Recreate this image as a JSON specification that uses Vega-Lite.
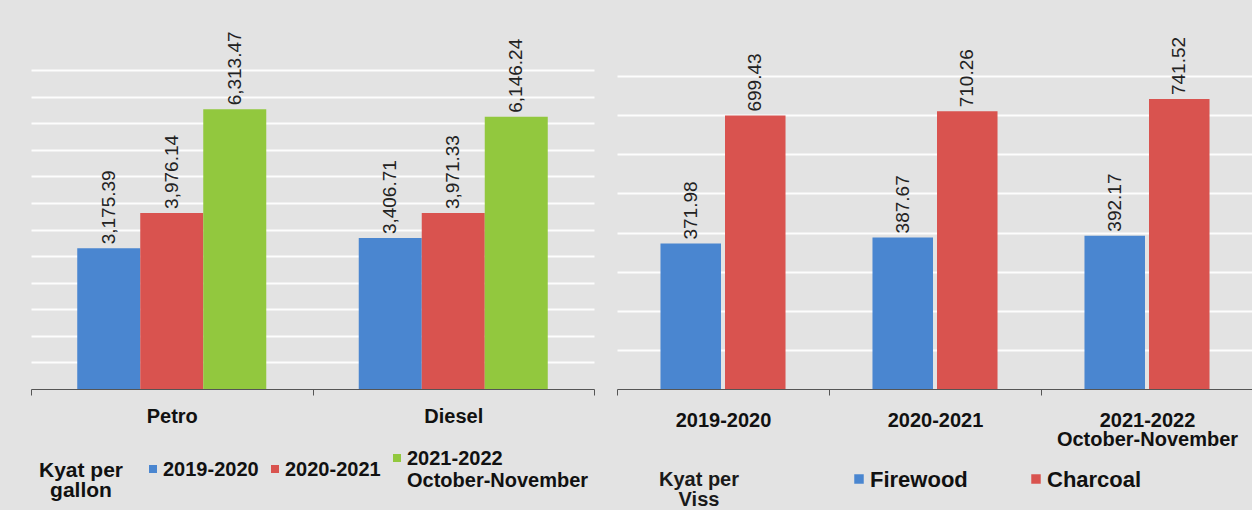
{
  "$schema": "https://vega.github.io/schema/vega-lite/v6.json",
  "background": "#e3e3e3",
  "padding": {"left": 30, "top": 31, "right": 0, "bottom": 0},
  "spacing": 23,
  "bounds": "flush",
  "resolve": {"scale": {"color": "independent", "xOffset": "independent"}, "legend": {"color": "independent"}},
  "config": {
    "view": {"stroke": null},
    "font": "Liberation Sans",
    "style": {"guide-label": {"dy": -9}}
  },
  "hconcat": [
    {
      "width": 563,
      "height": 357,
      "data": {"values": [
        {"fuel": "Petro", "period": "2019-2020", "price": 3175.39},
        {"fuel": "Petro", "period": "2020-2021", "price": 3976.14},
        {"fuel": "Petro", "period": "2021-2022 October-November", "price": 6313.47},
        {"fuel": "Diesel", "period": "2019-2020", "price": 3406.71},
        {"fuel": "Diesel", "period": "2020-2021", "price": 3971.33},
        {"fuel": "Diesel", "period": "2021-2022 October-November", "price": 6146.24}
      ]},
      "encoding": {
        "x": {
          "field": "fuel", "type": "nominal", "sort": ["Petro", "Diesel"],
          "scale": {"paddingInner": 0, "paddingOuter": 0},
          "axis": {"title": null, "labelAngle": 0, "labelFontSize": 20, "labelFontWeight": "bold", "labelColor": "#111", "labelPadding": 20, "tickBand": "extent", "tickSize": 6, "tickColor": "#555", "domainColor": "#555", "grid": false}
        },
        "xOffset": {"field": "period", "type": "nominal", "sort": ["2019-2020", "2020-2021", "2021-2022 October-November"], "scale": {"paddingInner": 0, "paddingOuter": 0.734}},
        "y": {
          "field": "price", "type": "quantitative",
          "scale": {"domain": [0, 8060], "nice": false},
          "axis": {"title": null, "labels": false, "ticks": false, "domain": false, "values": [600, 1200, 1800, 2400, 3000, 3600, 4200, 4800, 5400, 6000, 6600, 7200], "gridColor": "#ffffff", "gridWidth": 2, "gridOpacity": 0.9}
        }
      },
      "layer": [
        {
          "mark": {"type": "bar"},
          "encoding": {
            "color": {
              "field": "period", "type": "nominal",
              "sort": ["2019-2020", "2020-2021", "2021-2022 October-November"],
              "scale": {"range": ["#4a86d0", "#d9534f", "#92c83e"]},
              "legend": {"orient": "none", "legendX": 8, "legendY": 416, "direction": "horizontal", "title": ["Kyat per", "gallon"], "titleOrient": "left", "titleAlign": "center", "titleBaseline": "top", "titleFontSize": 21, "titleFontWeight": "bold", "titleColor": "#111", "titlePadding": -23, "titleLineHeight": 20, "labelFontSize": 20, "labelFontWeight": "bold", "labelColor": "#111", "labelBaseline": "top", "labelExpr": "split(datum.label, ' ')", "labelOffset": 0, "columnPadding": 6, "symbolType": "square", "symbolSize": 64, "symbolStrokeWidth": 0, "symbolOpacity": 1, "padding": 0, "labelLimit": 300}
            }
          }
        },
        {
          "mark": {"type": "text", "angle": 270, "align": "left", "baseline": "middle", "dx": 4, "fontSize": 19, "color": "#222"},
          "encoding": {"text": {"field": "price", "type": "quantitative", "format": ",.2f"}}
        }
      ]
    },
    {
      "width": 636,
      "height": 357,
      "data": {"values": [
        {"year": "2019-2020", "fuel": "Firewood", "price": 371.98},
        {"year": "2019-2020", "fuel": "Charcoal", "price": 699.43},
        {"year": "2020-2021", "fuel": "Firewood", "price": 387.67},
        {"year": "2020-2021", "fuel": "Charcoal", "price": 710.26},
        {"year": "2021-2022 October-November", "fuel": "Firewood", "price": 392.17},
        {"year": "2021-2022 October-November", "fuel": "Charcoal", "price": 741.52}
      ]},
      "encoding": {
        "x": {
          "field": "year", "type": "nominal", "sort": ["2019-2020", "2020-2021", "2021-2022 October-November"],
          "scale": {"paddingInner": 0, "paddingOuter": 0},
          "axis": {"title": null, "labelAngle": 0, "labelFontSize": 20, "labelFontWeight": "bold", "labelColor": "#111", "labelPadding": 24, "labelLineHeight": 19, "labelLimit": 300, "labelExpr": "split(datum.label, ' ')", "tickBand": "extent", "tickSize": 6, "tickColor": "#555", "domainColor": "#555", "grid": false}
        },
        "xOffset": {"field": "fuel", "type": "nominal", "sort": ["Firewood", "Charcoal"], "scale": {"paddingInner": 0.062, "paddingOuter": 0.674}},
        "y": {
          "field": "price", "type": "quantitative",
          "scale": {"domain": [0, 913], "nice": false},
          "axis": {"title": null, "labels": false, "ticks": false, "domain": false, "values": [100, 200, 300, 400, 500, 600, 700, 800], "gridColor": "#ffffff", "gridWidth": 2, "gridOpacity": 0.9}
        }
      },
      "layer": [
        {
          "mark": {"type": "bar"},
          "encoding": {
            "color": {
              "field": "fuel", "type": "nominal", "sort": ["Firewood", "Charcoal"],
              "scale": {"range": ["#4a86d0", "#d9534f"]},
              "legend": {"orient": "none", "legendX": 42, "legendY": 436, "direction": "horizontal", "title": ["Kyat per", "Viss"], "titleOrient": "left", "titleAlign": "center", "titleBaseline": "top", "titleFontSize": 20, "titleFontWeight": "bold", "titleColor": "#1a1a1a", "titlePadding": 68, "titleLineHeight": 20, "labelFontSize": 22, "labelFontWeight": "bold", "labelColor": "#111", "labelBaseline": "top", "labelOffset": 0, "columnPadding": 57, "symbolType": "square", "symbolSize": 90, "symbolStrokeWidth": 0, "symbolOpacity": 1, "padding": 0, "labelLimit": 300}
            }
          }
        },
        {
          "mark": {"type": "text", "angle": 270, "align": "left", "baseline": "middle", "dx": 4, "fontSize": 19, "color": "#222"},
          "encoding": {"text": {"field": "price", "type": "quantitative", "format": ".2f"}}
        }
      ]
    }
  ]
}
